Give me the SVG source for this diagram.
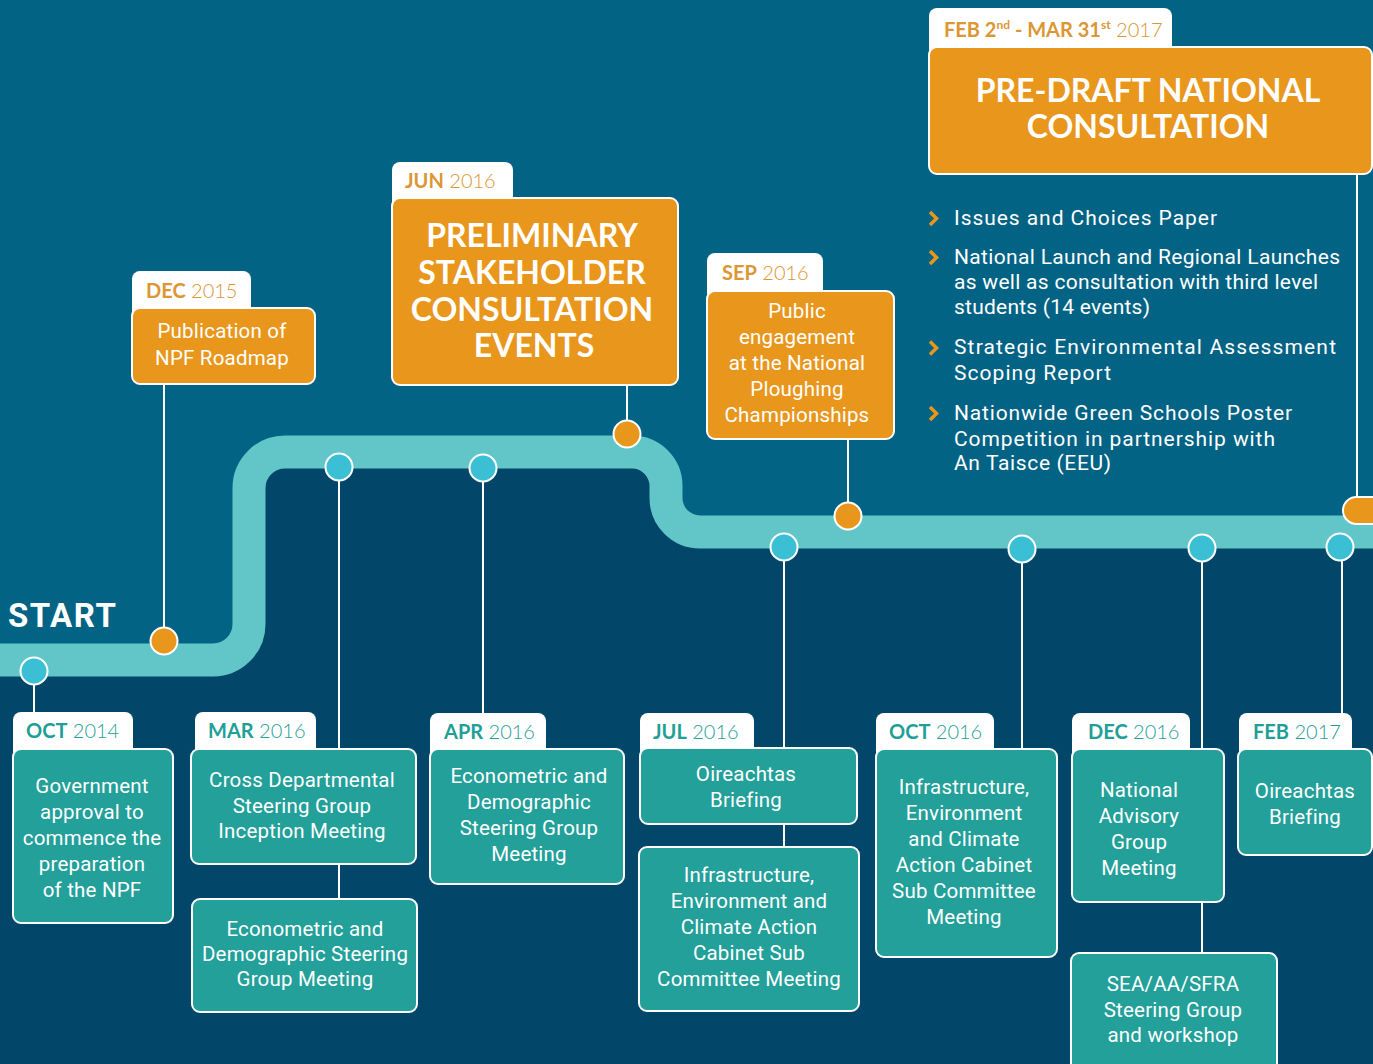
<svg xmlns="http://www.w3.org/2000/svg" width="1373" height="1064" viewBox="0 0 1373 1064">
<style>
.tab{fill:#ffffff}
.tb{fill:#22a099;stroke:#ffffff;stroke-width:2}
.ob{fill:#e8961c;stroke:#ffffff;stroke-width:2}
.tt{font-family:Lato,"Liberation Sans",sans-serif;font-size:20px;fill:#1f9f97}
.to{font-family:Lato,"Liberation Sans",sans-serif;font-size:20px;fill:#dc9633}
.m{font-weight:700}
.y{font-weight:300}
.bt{font-family:Roboto,"DejaVu Sans",sans-serif;font-size:20.5px;font-weight:400;fill:#ffffff;text-anchor:middle;letter-spacing:0.2px}
.ti{font-family:Lato,"Liberation Sans",sans-serif;font-size:32px;font-weight:700;fill:#ffffff;text-anchor:middle}
.bl{font-family:Roboto,"DejaVu Sans",sans-serif;font-size:21px;font-weight:400;fill:#ffffff}
.cn{stroke:#ffffff;stroke-width:2;fill:none}
.cc{fill:#3bbfd4;stroke:#ffffff;stroke-width:2}
.co{fill:#e8961c;stroke:#ffffff;stroke-width:2}
.chev{fill:none;stroke:#e8961c;stroke-width:3.5;stroke-linejoin:miter}
</style>
<rect x="0" y="0" width="1373" height="1064" fill="#036385"/>
<path d="M0,660 H213 A36,36 0 0 0 249,624 V488 A36,36 0 0 1 285,452 H632 A34,34 0 0 1 666,486 V498 A34,34 0 0 0 700,532 H1373 V1064 H0 Z" fill="#02476a"/>
<path id="track" d="M-5,660 H213 A36,36 0 0 0 249,624 V488 A36,36 0 0 1 285,452 H632 A34,34 0 0 1 666,486 V498 A34,34 0 0 0 700,532 H1380" fill="none" stroke="#62c6c8" stroke-width="33"/>
<text x="8" y="627" font-family="Roboto,'Liberation Sans',sans-serif" font-size="33" font-weight="700" fill="#ffffff" letter-spacing="1.5">START</text>

<g id="connectors">
<line class="cn" x1="34" y1="671" x2="34" y2="713"/>
<line class="cn" x1="164" y1="384" x2="164" y2="641"/>
<line class="cn" x1="339" y1="467" x2="339" y2="749"/>
<line class="cn" x1="339" y1="864" x2="339" y2="899"/>
<line class="cn" x1="483" y1="468" x2="483" y2="713"/>
<line class="cn" x1="627" y1="385" x2="627" y2="434"/>
<line class="cn" x1="848" y1="439" x2="848" y2="516"/>
<line class="cn" x1="784" y1="547" x2="784" y2="748"/>
<line class="cn" x1="784" y1="824" x2="784" y2="847"/>
<line class="cn" x1="1022" y1="549" x2="1022" y2="749"/>
<line class="cn" x1="1202" y1="548" x2="1202" y2="749"/>
<line class="cn" x1="1202" y1="902" x2="1202" y2="953"/>
<line class="cn" x1="1342" y1="547" x2="1342" y2="713"/>
<line class="cn" x1="1357" y1="174" x2="1357" y2="497"/>
</g>

<g id="markers">
<circle class="cc" cx="34" cy="671" r="13.5"/>
<circle class="co" cx="164" cy="641" r="13.5"/>
<circle class="cc" cx="339" cy="467" r="13.5"/>
<circle class="cc" cx="483" cy="468" r="13.5"/>
<circle class="co" cx="627" cy="434" r="13.5"/>
<circle class="co" cx="848" cy="516" r="13.5"/>
<circle class="cc" cx="784" cy="547" r="13.5"/>
<circle class="cc" cx="1022" cy="549" r="13.5"/>
<circle class="cc" cx="1202" cy="548" r="13.5"/>
<circle class="cc" cx="1340" cy="547" r="13.5"/>
<rect class="co" x="1343" y="497" width="50" height="27" rx="13.5"/>
</g>

<g id="oct2014">
<rect class="tab" x="13" y="712" width="120" height="48" rx="8"/>
<text class="tt" x="26" y="738"><tspan class="m">OCT</tspan><tspan class="y"> 2014</tspan></text>
<rect class="tb" x="13" y="749" width="160" height="174" rx="8"/>
<text class="bt" x="92" y="793">Government</text>
<text class="bt" x="92" y="819">approval to</text>
<text class="bt" x="92" y="845">commence the</text>
<text class="bt" x="92" y="871">preparation</text>
<text class="bt" x="92" y="897">of the NPF</text>
</g>

<g id="mar2016">
<rect class="tab" x="195" y="712" width="121" height="48" rx="8"/>
<text class="tt" x="208" y="738"><tspan class="m">MAR</tspan><tspan class="y"> 2016</tspan></text>
<rect class="tb" x="191" y="749" width="225" height="115" rx="8"/>
<text class="bt" x="302" y="787">Cross Departmental</text>
<text class="bt" x="302" y="813">Steering Group</text>
<text class="bt" x="302" y="838">Inception Meeting</text>
</g>
<g id="mar2016b">
<rect class="tb" x="192" y="899" width="225" height="113" rx="8"/>
<text class="bt" x="305" y="936">Econometric and</text>
<text class="bt" x="305" y="961">Demographic Steering</text>
<text class="bt" x="305" y="986">Group Meeting</text>
</g>

<g id="apr2016">
<rect class="tab" x="430" y="713" width="116" height="48" rx="8"/>
<text class="tt" x="444" y="739"><tspan class="m">APR</tspan><tspan class="y"> 2016</tspan></text>
<rect class="tb" x="430" y="749" width="194" height="135" rx="8"/>
<text class="bt" x="529" y="783">Econometric and</text>
<text class="bt" x="529" y="809">Demographic</text>
<text class="bt" x="529" y="835">Steering Group</text>
<text class="bt" x="529" y="861">Meeting</text>
</g>

<g id="jul2016">
<rect class="tab" x="640" y="713" width="114" height="48" rx="8"/>
<text class="tt" x="653" y="739"><tspan class="m">JUL</tspan><tspan class="y"> 2016</tspan></text>
<rect class="tb" x="640" y="748" width="217" height="76" rx="8"/>
<text class="bt" x="746" y="781">Oireachtas</text>
<text class="bt" x="746" y="807">Briefing</text>
</g>
<g id="jul2016b">
<rect class="tb" x="639" y="847" width="220" height="164" rx="8"/>
<text class="bt" x="749" y="882">Infrastructure,</text>
<text class="bt" x="749" y="908">Environment and</text>
<text class="bt" x="749" y="934">Climate Action</text>
<text class="bt" x="749" y="960">Cabinet Sub</text>
<text class="bt" x="749" y="986">Committee Meeting</text>
</g>

<g id="oct2016">
<rect class="tab" x="876" y="713" width="118" height="48" rx="8"/>
<text class="tt" x="889" y="739"><tspan class="m">OCT</tspan><tspan class="y"> 2016</tspan></text>
<rect class="tb" x="876" y="749" width="181" height="208" rx="8"/>
<text class="bt" x="964" y="794">Infrastructure,</text>
<text class="bt" x="964" y="820">Environment</text>
<text class="bt" x="964" y="846">and Climate</text>
<text class="bt" x="964" y="872">Action Cabinet</text>
<text class="bt" x="964" y="898">Sub Committee</text>
<text class="bt" x="964" y="924">Meeting</text>
</g>

<g id="dec2016">
<rect class="tab" x="1072" y="713" width="118" height="48" rx="8"/>
<text class="tt" x="1088" y="739"><tspan class="m">DEC</tspan><tspan class="y"> 2016</tspan></text>
<rect class="tb" x="1072" y="749" width="152" height="153" rx="8"/>
<text class="bt" x="1139" y="797">National</text>
<text class="bt" x="1139" y="823">Advisory</text>
<text class="bt" x="1139" y="849">Group</text>
<text class="bt" x="1139" y="875">Meeting</text>
</g>
<g id="dec2016b">
<rect class="tb" x="1071" y="953" width="206" height="130" rx="8"/>
<text class="bt" x="1173" y="991">SEA/AA/SFRA</text>
<text class="bt" x="1173" y="1017">Steering Group</text>
<text class="bt" x="1173" y="1042">and workshop</text>
</g>

<g id="feb2017">
<rect class="tab" x="1239" y="713" width="113" height="48" rx="8"/>
<text class="tt" x="1253" y="739"><tspan class="m">FEB</tspan><tspan class="y"> 2017</tspan></text>
<rect class="tb" x="1238" y="749" width="134" height="106" rx="8"/>
<text class="bt" x="1305" y="798">Oireachtas</text>
<text class="bt" x="1305" y="824">Briefing</text>
</g>

<g id="dec2015">
<rect class="tab" x="132" y="271" width="119" height="48" rx="8"/>
<text class="to" x="146" y="298"><tspan class="m">DEC</tspan><tspan class="y"> 2015</tspan></text>
<rect class="ob" x="132" y="308" width="183" height="76" rx="8"/>
<text class="bt" x="222" y="338">Publication of</text>
<text class="bt" x="222" y="365">NPF Roadmap</text>
</g>

<g id="jun2016">
<rect class="tab" x="392" y="162" width="121" height="48" rx="8"/>
<text class="to" x="405" y="188"><tspan class="m">JUN</tspan><tspan class="y"> 2016</tspan></text>
<rect class="ob" x="392" y="198" width="286" height="187" rx="8"/>
<text class="ti" x="532" y="247">PRELIMINARY</text>
<text class="ti" x="532" y="284">STAKEHOLDER</text>
<text class="ti" x="532" y="321">CONSULTATION</text>
<text class="ti" x="534" y="357">EVENTS</text>
</g>

<g id="sep2016">
<rect class="tab" x="707" y="253" width="116" height="48" rx="8"/>
<text class="to" x="722" y="280"><tspan class="m">SEP</tspan><tspan class="y"> 2016</tspan></text>
<rect class="ob" x="707" y="291" width="187" height="148" rx="8"/>
<text class="bt" x="797" y="318">Public</text>
<text class="bt" x="797" y="344">engagement</text>
<text class="bt" x="797" y="370">at the National</text>
<text class="bt" x="797" y="396">Ploughing</text>
<text class="bt" x="797" y="422">Championships</text>
</g>

<g id="predraft">
<rect class="tab" x="929" y="8" width="243" height="50" rx="8"/>
<text class="to" x="944" y="37"><tspan class="m">FEB 2</tspan><tspan class="m" font-size="12" dy="-8">nd</tspan><tspan class="m" dy="8"> - MAR 31</tspan><tspan class="m" font-size="12" dy="-8">st</tspan><tspan class="y" dy="8"> 2017</tspan></text>
<rect class="ob" x="929" y="47" width="443" height="127" rx="8"/>
<text class="ti" x="1148" y="102">PRE-DRAFT NATIONAL</text>
<text class="ti" x="1148" y="138">CONSULTATION</text>
</g>

<g id="bullets">
<path class="chev" d="M930,212 L936.5,218.5 L930,225"/>
<path class="chev" d="M930,251 L936.5,257.5 L930,264"/>
<path class="chev" d="M930,341.5 L936.5,348 L930,354.5"/>
<path class="chev" d="M930,407 L936.5,413.5 L930,420"/>
<text class="bl" x="954" y="225" textLength="263" lengthAdjust="spacing">Issues and Choices Paper</text>
<text class="bl" x="954" y="264" textLength="386" lengthAdjust="spacing">National Launch and Regional Launches</text>
<text class="bl" x="954" y="289" textLength="364" lengthAdjust="spacing">as well as consultation with third level</text>
<text class="bl" x="954" y="314" textLength="196" lengthAdjust="spacing">students  (14 events)</text>
<text class="bl" x="954" y="354" textLength="382" lengthAdjust="spacing">Strategic Environmental Assessment</text>
<text class="bl" x="954" y="380" textLength="157" lengthAdjust="spacing">Scoping Report</text>
<text class="bl" x="954" y="420" textLength="338" lengthAdjust="spacing">Nationwide Green Schools Poster</text>
<text class="bl" x="954" y="446" textLength="321" lengthAdjust="spacing">Competition in partnership with</text>
<text class="bl" x="954" y="470" textLength="157" lengthAdjust="spacing">An Taisce (EEU)</text>
</g>
</svg>
